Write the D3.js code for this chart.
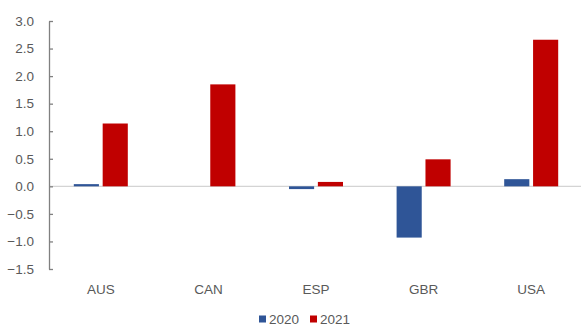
<!DOCTYPE html>
<html>
<head>
<meta charset="utf-8">
<script src="https://cdn.jsdelivr.net/npm/d3@7"></script>
<style>
  html, body { margin: 0; padding: 0; background: #fff; }
  svg { display: block; }
  text { font-family: "Liberation Sans", Arial, sans-serif; fill: #595959; }
</style>
</head>
<body>
<svg id="chart" width="581" height="326"></svg>
<script>
// Country codes along the x axis
const categories = ["AUS", "CAN", "ESP", "GBR", "USA"];
// Series values
const series2020 = [0.04, 0.0, -0.05, -0.93, 0.13];
const series2021 = [1.14, 1.85, 0.08, 0.49, 2.66];
const seriesNames = ["2020", "2021"];
const seriesColors = ["#2F5597", "#C00000"];
// Y axis tick values
const yTicks = [3.0, 2.5, 2.0, 1.5, 1.0, 0.5, 0.0, -0.5, -1.0, -1.5];

const svg = d3.select("#chart");
const W = 581, H = 326;
const margin = { left: 49, top: 21, bottom: 57 };

const x = d3.scaleBand()
  .domain(categories)
  .range([47, 585])
  .paddingInner(0)
  .paddingOuter(0);

const y = d3.scaleLinear()
  .domain([-1.5, 3.0])
  .range([269, 21]);

const barW = 23.5, gap = 7;
const sub = d3.scaleBand().domain(seriesNames).range([0, barW * 2 + gap]).paddingInner(gap / (barW * 2 + gap));

const rows = categories.map((c, i) => ({ c, vals: [series2020[i], series2021[i]] }));

// Zero baseline across the plot
svg.append("line")
  .attr("x1", margin.left).attr("x2", W)
  .attr("y1", y(0)).attr("y2", y(0))
  .attr("stroke", "#d4d4d4").attr("stroke-width", 1.2);

// Bars
const groups = svg.selectAll("g.cat").data(rows).join("g")
  .attr("class", "cat")
  .attr("transform", d => `translate(${x(d.c) + x.bandwidth() / 2 - (barW * 2 + gap) / 2},0)`);

groups.selectAll("rect").data(d => d.vals.map((v, k) => ({ v, k }))).join("rect")
  .attr("x", d => sub(seriesNames[d.k]))
  .attr("width", sub.bandwidth())
  .attr("y", d => y(Math.max(0, d.v)))
  .attr("height", d => Math.abs(y(d.v) - y(0)))
  .attr("fill", d => seriesColors[d.k]);

// Y axis with inward ticks
const yAxis = d3.axisLeft(y).tickValues(yTicks).tickFormat(d3.format(".1f")).tickSizeInner(-4).tickSizeOuter(0).tickPadding(15);
const ya = svg.append("g").attr("transform", `translate(${margin.left},0)`).call(yAxis);
ya.select(".domain").attr("stroke", "#808080").attr("stroke-width", 1.3);
ya.selectAll(".tick line").attr("stroke", "#808080").attr("stroke-width", 1.3);
ya.selectAll(".tick text").attr("font-size", 13.5).style("fill", "#595959")
  .attr("font-family", "Liberation Sans, Arial, sans-serif");

// Category labels
svg.append("g").selectAll("text").data(categories).join("text")
  .attr("x", d => x(d) + x.bandwidth() / 2)
  .attr("y", 289)
  .attr("dy", "0.35em")
  .attr("text-anchor", "middle")
  .attr("font-size", 13.5)
  .text(d => d);

// Legend
const legend = svg.append("g");
const legendX = [259, 310];
seriesNames.forEach((name, k) => {
  legend.append("rect")
    .attr("x", legendX[k]).attr("y", 315.5)
    .attr("width", 7).attr("height", 7)
    .attr("fill", seriesColors[k]);
  legend.append("text")
    .attr("x", legendX[k] + 10).attr("y", 319)
    .attr("dy", "0.35em")
    .attr("font-size", 13.5)
    .text(name);
});
</script>
</body>
</html>
